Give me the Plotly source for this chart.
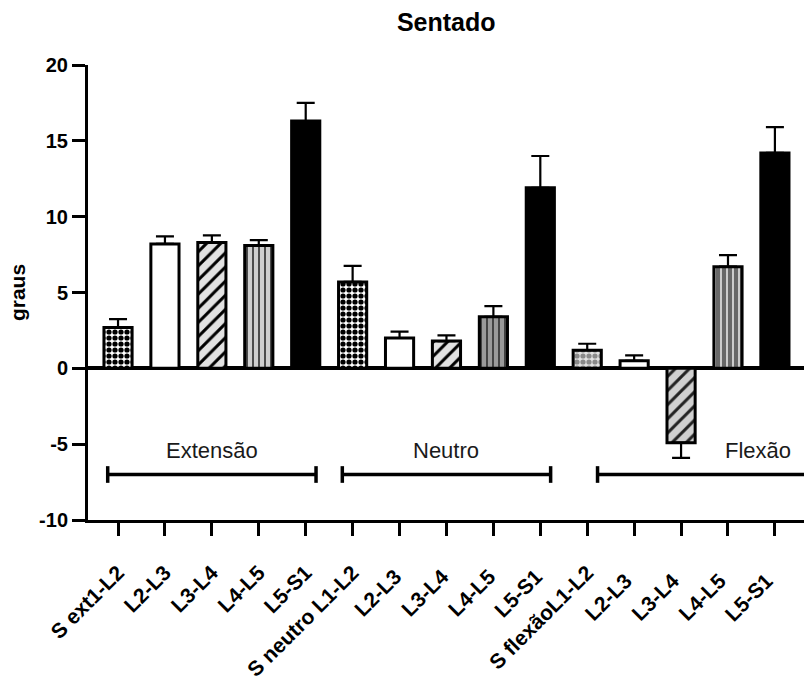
import plotly.graph_objects as go

categories = ["S ext1-L2", "L2-L3", "L3-L4", "L4-L5", "L5-S1",
              "S neutro L1-L2", "L2-L3 ", "L3-L4 ", "L4-L5 ", "L5-S1 ",
              "S flexãoL1-L2", "L2-L3  ", "L3-L4  ", "L4-L5  ", "L5-S1  "]
values = [2.7, 8.2, 8.3, 8.1, 16.3,
          5.7, 2.0, 1.8, 3.4, 11.9,
          1.2, 0.5, -4.9, 6.7, 14.2]
errors = [0.55, 0.5, 0.47, 0.35, 1.2,
          1.05, 0.42, 0.37, 0.7, 2.1,
          0.42, 0.35, 1.0, 0.76, 1.7]
groups = ["Extensão", "Neutro", "Flexão"]

# fill style per bar: (pattern shape, foreground, background, tile size, solidity)
styles = [
    (".", "black", "white", 6, 0.6), ("", "black", "white", 8, 0.3),
    ("/", "black", "#e2e2e2", 10, 0.3), ("|", "#333333", "#cfcfcf", 6, 0.28),
    ("", "black", "black", 8, 0.3),
    (".", "black", "white", 6, 0.6), ("", "black", "white", 8, 0.3),
    ("/", "black", "#e2e2e2", 10, 0.3), ("|", "#333333", "#9a9a9a", 6, 0.28),
    ("", "black", "black", 8, 0.3),
    (".", "#8a8a8a", "#e2e2e2", 6, 0.6), ("", "black", "white", 8, 0.3),
    ("/", "#222222", "#d0d0d0", 10, 0.3), ("|", "#e0e0e0", "#686868", 6, 0.28),
    ("", "black", "black", 8, 0.3),
]

fig = go.Figure()
for i, cat in enumerate(categories):
    v, e = values[i], errors[i]
    shp_, fgc, bgc, sz, sol = styles[i]
    fig.add_trace(go.Bar(
        x=[i], y=[v], width=0.6,
        marker=dict(color=bgc, line=dict(color="black", width=3),
                    pattern=dict(shape=shp_, fgcolor=fgc, bgcolor=bgc, fgopacity=1,
                                 size=sz, solidity=sol, fillmode="replace")),
        error_y=dict(type="data", symmetric=False,
                     array=[e if v >= 0 else 0], arrayminus=[0 if v >= 0 else e],
                     color="black", thickness=2.2, width=9),
        showlegend=False,
    ))

font_fam = "Arial, Liberation Sans, sans-serif"

# group brackets
brackets = [(-0.22, 4.22), (4.78, 9.22), (10.22, 14.62)]
label_x = [2, 7, 13.65]
by = -7
shp = []
for i, (a, b) in enumerate(brackets):
    shp.append(dict(type="line", xref="x", yref="y", x0=a, x1=b, y0=by, y1=by,
                    line=dict(color="black", width=3.5)))
    shp.append(dict(type="line", xref="x", yref="y", x0=a, x1=a, y0=by - 0.55, y1=by + 0.55,
                    line=dict(color="black", width=3.5)))
    if i < 2:
        shp.append(dict(type="line", xref="x", yref="y", x0=b, x1=b, y0=by - 0.55, y1=by + 0.55,
                        line=dict(color="black", width=3.5)))

annotations = [dict(x=lx, y=-5.4, xref="x", yref="y", text=g, showarrow=False,
                    font=dict(family=font_fam, size=22, color="#1a1a1a"))
               for lx, g in zip(label_x, groups)]

fig.update_layout(
    width=804, height=681,
    margin=dict(l=88, r=0, t=65, b=158),
    plot_bgcolor="white", paper_bgcolor="white",
    title=dict(text="<b>Sentado</b>", x=0.555, xanchor="center", y=0.968, yanchor="middle",
               font=dict(family=font_fam, size=25, color="black")),
    shapes=shp, annotations=annotations,
    barmode="overlay",
)
fig.update_xaxes(
    range=[-0.64, 14.62], tickmode="array", tickvals=list(range(len(categories))),
    ticktext=categories,
    tickangle=-45, showline=True, linecolor="black", linewidth=3,
    ticks="outside", ticklen=13, tickwidth=3, tickcolor="black",
    ticklabelstandoff=16,
    showgrid=False, zeroline=False,
    tickfont=dict(family=font_fam, size=21, color="black", weight="bold"),
)
fig.update_yaxes(
    range=[-10, 20], tickvals=[-10, -5, 0, 5, 10, 15, 20],
    ticktext=["-10", "-5", "0", "5", "10", "15", "20"],
    showline=True, linecolor="black", linewidth=3,
    ticks="outside", ticklen=13, tickwidth=3, tickcolor="black",
    showgrid=False, zeroline=True, zerolinecolor="black", zerolinewidth=3.5,
    tickfont=dict(family=font_fam, size=20, color="black", weight="bold"),
    title=dict(text="<b>graus</b>", standoff=8,
               font=dict(family=font_fam, size=21, color="black")),
)
fig.write_html("out.html")
